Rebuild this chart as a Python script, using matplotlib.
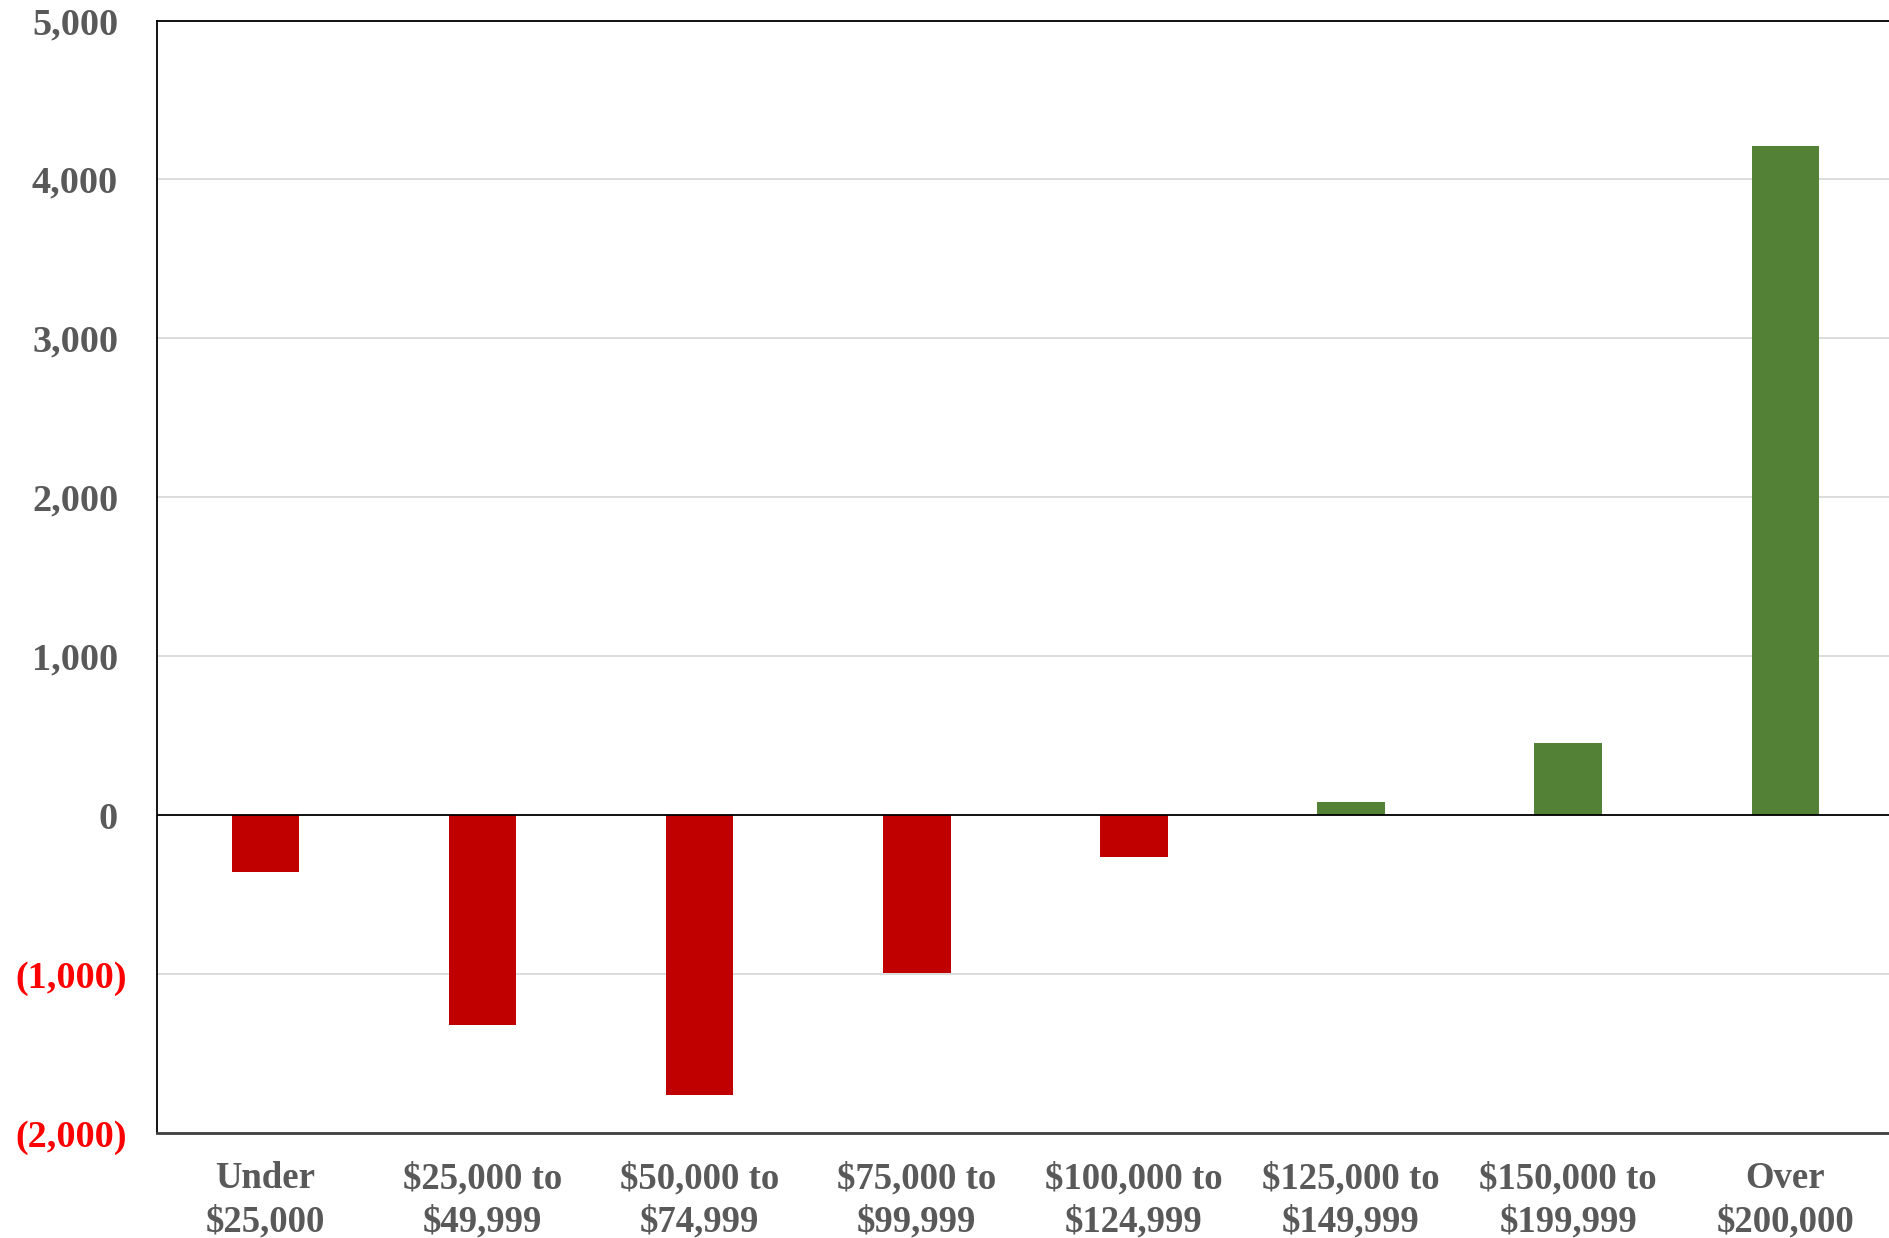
import matplotlib.pyplot as plt
from matplotlib.ticker import FuncFormatter
from matplotlib.transforms import ScaledTranslation

categories = ["Under\n$25,000", "$25,000 to\n$49,999", "$50,000 to\n$74,999",
              "$75,000 to\n$99,999", "$100,000 to\n$124,999", "$125,000 to\n$149,999",
              "$150,000 to\n$199,999", "Over\n$200,000"]
values = [-360, -1320, -1760, -995, -265, 85, 455, 4210]

red = "#C00000"
green = "#538135"
gray = "#595959"

plt.rcParams["font.family"] = ["Liberation Serif", "DejaVu Serif"]
plt.rcParams["font.weight"] = "bold"

fig = plt.figure(figsize=(18.9, 12.38), dpi=100)
ax = fig.add_axes([0.0831, 0.0848, 0.9169 + 0.002, 0.8986])

colors = [green if v >= 0 else red for v in values]
ax.bar(range(len(values)), values, width=0.31, color=colors, zorder=3)

ax.set_xlim(-0.5, 7.5)
ax.set_ylim(-2000, 5000)
ax.set_yticks(range(-2000, 5001, 1000))
ax.yaxis.set_major_formatter(FuncFormatter(
    lambda v, p: f"({abs(v):,.0f})" if v < 0 else f"{v:,.0f}"))
ax.set_xticks(range(len(categories)))
ax.set_xticklabels(categories, linespacing=1.3)

ax.tick_params(axis="x", length=0, labelsize=26.5, labelcolor=gray, pad=20.5)
ax.tick_params(axis="y", length=0, labelsize=27.5, labelcolor=gray, pad=22)
fig.canvas.draw()
# excel style: negatives in red parens, positives leave room for the ")"
shift = ScaledTranslation(-8.5 / 100, 0, fig.dpi_scale_trans)
for lab in ax.get_yticklabels():
    if lab.get_text().startswith("("):
        lab.set_color("#FF0000")
    else:
        lab.set_transform(lab.get_transform() + shift)

ax.grid(axis="y", color="#d9d9d9", lw=1.3, zorder=0)
ax.axhline(0, color="black", lw=1.3, zorder=4)

for s in ["left", "top"]:
    ax.spines[s].set_color("black")
    ax.spines[s].set_linewidth(1.3)
ax.spines["bottom"].set_color("#404040")
ax.spines["bottom"].set_linewidth(2)
ax.spines["right"].set_visible(False)

fig.savefig("out.png", dpi=100)
